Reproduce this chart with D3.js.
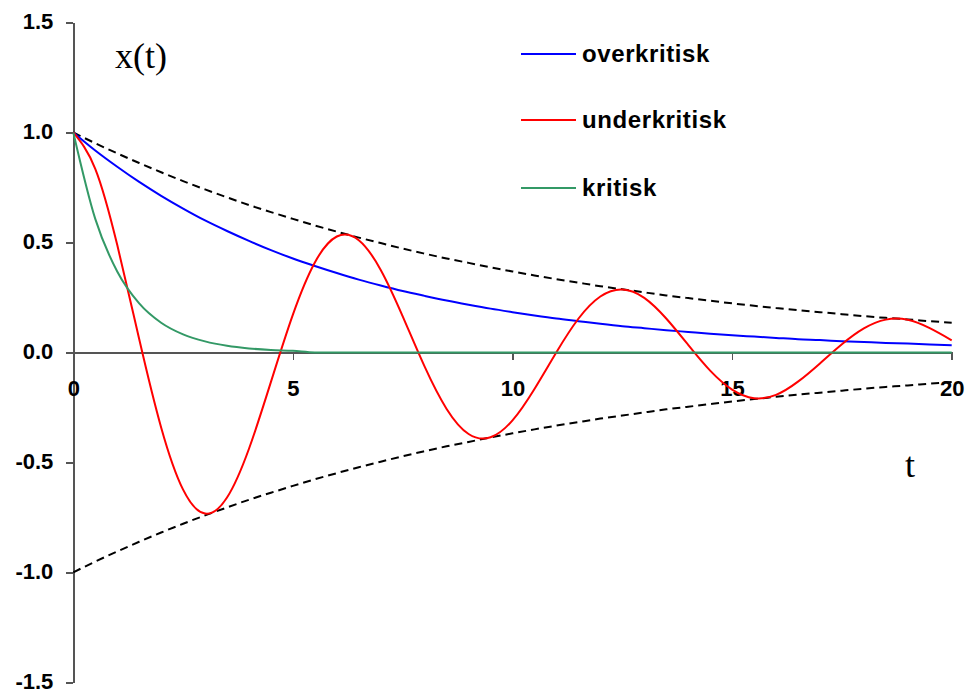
<!DOCTYPE html>
<html lang="no">
  <head>
    <meta charset="utf-8" />
    <title>Dempet svingning</title>
    <script src="https://cdnjs.cloudflare.com/ajax/libs/d3/7.8.5/d3.min.js"></script>
    <style type="text/css">
      body { margin: 0; background: #fff; }

      .axis path,
      .axis line {
        stroke: #555;
        stroke-width: 1.5;
        shape-rendering: crispEdges;
      }

      .axis text {
        font-family: "Liberation Sans", Arial, sans-serif;
        font-weight: bold;
        font-size: 22px;
        fill: #000;
      }

      .curve {
        fill: none;
        stroke-width: 2;
      }

      .envelope {
        fill: none;
        stroke: #000;
        stroke-width: 2;
        stroke-dasharray: 8, 5;
      }

      .legendLabel {
        font-family: "Liberation Sans", Arial, sans-serif;
        font-weight: bold;
        font-size: 24px;
        letter-spacing: 0.6px;
      }

      .axisTitle {
        font-family: "Liberation Serif", "Times New Roman", serif;
        font-size: 36px;
      }
    </style>
  </head>

  <body>
    <div id="chart"></div>

    <script>
      // Sample times, every 0.5
      const tValues = [
        0, 0.5, 1, 1.5, 2, 2.5, 3, 3.5, 4, 4.5,
        5, 5.5, 6, 6.5, 7, 7.5, 8, 8.5, 9, 9.5,
        10, 10.5, 11, 11.5, 12, 12.5, 13, 13.5, 14, 14.5,
        15, 15.5, 16, 16.5, 17, 17.5, 18, 18.5, 19, 19.5, 20
      ];

      const overkritisk = [
        1.000, 0.918, 0.844, 0.775, 0.712, 0.654, 0.600, 0.552, 0.507, 0.465,
        0.427, 0.393, 0.361, 0.331, 0.304, 0.279, 0.257, 0.236, 0.217, 0.199,
        0.183, 0.168, 0.154, 0.142, 0.130, 0.119, 0.110, 0.101, 0.093, 0.085,
        0.078, 0.072, 0.066, 0.060, 0.056, 0.051, 0.047, 0.043, 0.040, 0.036, 0.033
      ];

      const underkritisk = [
        1.000, 0.835, 0.489, 0.061, -0.341, -0.624, -0.733, -0.660, -0.438, -0.134,
        0.172, 0.409, 0.527, 0.510, 0.375, 0.164, -0.065, -0.257, -0.371, -0.386,
        -0.309, -0.166, 0.001, 0.153, 0.254, 0.286, 0.248, 0.154, 0.034, -0.083,
        -0.169, -0.208, -0.193, -0.133, -0.050, 0.037, 0.109, 0.149, 0.148, 0.110, 0.055
      ];

      const kritisk = [
        1.000, 0.607, 0.368, 0.223, 0.135, 0.082, 0.050, 0.030, 0.018, 0.011,
        0.007, 0.000, 0.000, 0.000, 0.000, 0.000, 0.000, 0.000, 0.000, 0.000,
        0.000, 0.000, 0.000, 0.000, 0.000, 0.000, 0.000, 0.000, 0.000, 0.000,
        0.000, 0.000, 0.000, 0.000, 0.000, 0.000, 0.000, 0.000, 0.000, 0.000, 0.000
      ];

      const envelopeUpper = [
        1.000, 0.951, 0.905, 0.861, 0.819, 0.779, 0.741, 0.705, 0.670, 0.638,
        0.607, 0.577, 0.549, 0.522, 0.497, 0.472, 0.449, 0.427, 0.407, 0.387,
        0.368, 0.350, 0.333, 0.317, 0.301, 0.287, 0.273, 0.259, 0.247, 0.235,
        0.223, 0.212, 0.202, 0.192, 0.183, 0.174, 0.165, 0.157, 0.150, 0.142, 0.135
      ];

      const envelopeLower = [
        -1.000, -0.951, -0.905, -0.861, -0.819, -0.779, -0.741, -0.705, -0.670, -0.638,
        -0.607, -0.577, -0.549, -0.522, -0.497, -0.472, -0.449, -0.427, -0.407, -0.387,
        -0.368, -0.350, -0.333, -0.317, -0.301, -0.287, -0.273, -0.259, -0.247, -0.235,
        -0.223, -0.212, -0.202, -0.192, -0.183, -0.174, -0.165, -0.157, -0.150, -0.142, -0.135
      ];

      const xTicks = [0, 5, 10, 15, 20];
      const yTicks = [-1.5, -1.0, -0.5, 0.0, 0.5, 1.0, 1.5];

      const seriesNames = ['overkritisk', 'underkritisk', 'kritisk'];
      const seriesColors = ['#0000ff', '#ff0000', '#339966'];

      const width = 967;
      const height = 693;

      const svg = d3.select('#chart').append('svg')
        .attr('width', width)
        .attr('height', height);

      // Scales
      const x = d3.scaleLinear().domain([0, 20]).range([73.3, 951.7]);
      const y = d3.scaleLinear().domain([-1.5, 1.5]).range([682.3, 22.5]);

      // Axes
      svg.append('g')
        .attr('class', 'axis y-axis')
        .attr('transform', `translate(${x(0)},0)`)
        .call(d3.axisLeft(y)
          .tickValues(yTicks)
          .tickSize(7)
          .tickSizeOuter(0)
          .tickPadding(13)
          .tickFormat(d => d.toFixed(1)))
        .selectAll('text')
        .attr('dy', '0.28em');

      svg.append('g')
        .attr('class', 'axis x-axis')
        .attr('transform', `translate(0,${y(0)})`)
        .call(d3.axisBottom(x)
          .tickValues(xTicks)
          .tickSize(8)
          .tickSizeOuter(0)
          .tickPadding(20)
          .tickFormat(d3.format('d')));

      // Curves: smooth spline for oscillating series, monotone for decays
      const smoothLine = d3.line()
        .curve(d3.curveNatural)
        .x((d, i) => x(tValues[i]))
        .y(d => y(d));

      const decayLine = d3.line()
        .curve(d3.curveMonotoneX)
        .x((d, i) => x(tValues[i]))
        .y(d => y(d));

      svg.append('path')
        .datum(envelopeUpper)
        .attr('class', 'envelope')
        .attr('d', smoothLine);

      svg.append('path')
        .datum(envelopeLower)
        .attr('class', 'envelope')
        .attr('d', smoothLine);

      const seriesData = [overkritisk, underkritisk, kritisk];
      const seriesLines = [decayLine, smoothLine, decayLine];

      seriesData.forEach((data, i) => {
        svg.append('path')
          .datum(data)
          .attr('class', 'curve')
          .attr('stroke', seriesColors[i])
          .attr('d', seriesLines[i]);
      });

      // Legend
      const legendY = [54, 120, 188];
      const legend = svg.append('g').attr('class', 'legend');

      seriesNames.forEach((name, i) => {
        legend.append('line')
          .attr('x1', 521)
          .attr('x2', 576)
          .attr('y1', legendY[i])
          .attr('y2', legendY[i])
          .attr('stroke', seriesColors[i])
          .attr('stroke-width', 2);

        legend.append('text')
          .attr('class', 'legendLabel')
          .attr('x', 582)
          .attr('y', legendY[i])
          .attr('dy', '0.35em')
          .text(name);
      });

      // Axis titles
      svg.append('text')
        .attr('class', 'axisTitle')
        .attr('x', 115)
        .attr('y', 68)
        .text('x(t)');

      svg.append('text')
        .attr('class', 'axisTitle')
        .attr('x', 905)
        .attr('y', 477)
        .text('t');
    </script>
  </body>
</html>
